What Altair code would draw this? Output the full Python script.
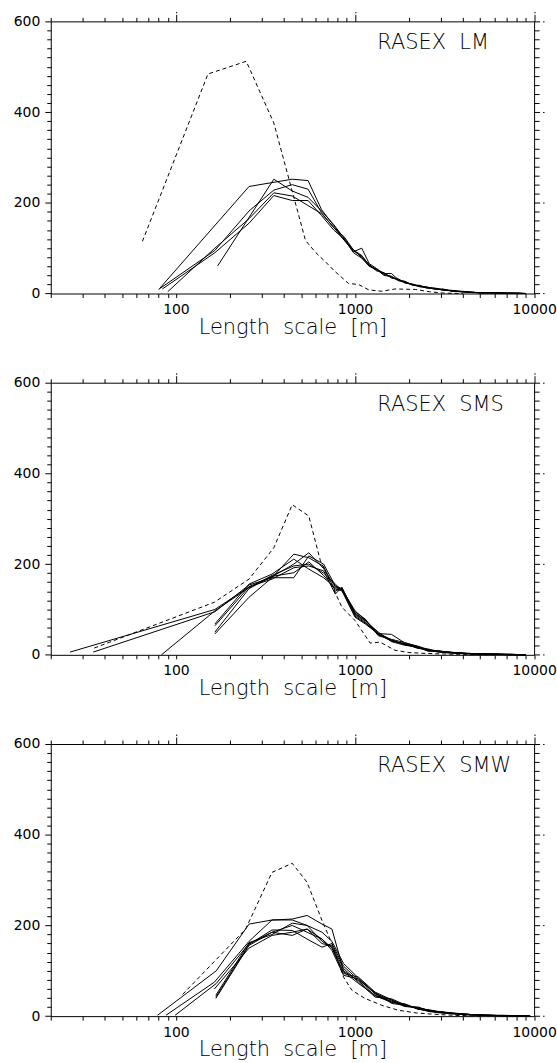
import altair as alt
import pandas as pd

FONT = "DejaVu Sans"

# ---------------- axis tick values ----------------
X_TICKS = [20, 30, 40, 50, 60, 70, 80, 90, 100, 200, 300, 400, 500, 600, 700, 800, 900,
           1000, 2000, 3000, 4000, 5000, 6000, 7000, 8000, 9000, 10000]
Y_TICKS = [0, 20, 40, 60, 80, 100, 120, 140, 160, 180, 200, 220, 240, 260, 280, 300,
           320, 340, 360, 380, 400, 420, 440, 460, 480, 500, 520, 540, 560, 580, 600]

# ---------------- panel 1 : RASEX LM ----------------
LM_DASH_X = [65, 151, 247, 352, 529, 601, 683, 776, 921, 1045, 1194, 1410, 1672, 2170, 2600, 3100, 4000]
LM_DASH_Y = [115, 484, 512, 376, 117, 91, 70, 48, 22, 20, 8, 5, 10, 9, 4, 1, 0]

LM_TAIL_X = [650, 760, 870, 980, 1090, 1200, 1320, 1450, 1600, 1750, 1900, 2100, 2300, 2500,
             2800, 3100, 3500, 4000, 4500, 5000, 6000, 7000, 8000, 9000]
LM_A_X = [81, 256, 446, 547]
LM_A_Y = [11, 236, 252, 249]
LM_A_T = [185, 150, 118, 92, 100, 66, 55, 44, 44, 30, 26, 19, 18, 13, 12, 8, 7, 4, 3, 2, 2, 1, 1, 0]
LM_B_X = [80, 165, 256, 352, 446, 547]
LM_B_Y = [9, 95, 182, 228, 240, 230]
LM_B_T = [178, 145, 125, 96, 84, 62, 50, 46, 34, 31, 23, 21, 15, 15, 10, 9, 5, 5, 2, 2, 1, 1, 0, 0]
LM_C_X = [84, 165, 256, 352, 446, 547]
LM_C_Y = [10, 90, 155, 216, 205, 205]
LM_C_T = [172, 140, 120, 90, 78, 60, 53, 40, 37, 28, 25, 18, 17, 12, 11, 7, 6, 3, 3, 1, 2, 1, 1, 0]
LM_D_X = [171, 352, 446, 547]
LM_D_Y = [61, 252, 226, 212]
LM_D_T = [182, 152, 122, 94, 82, 64, 51, 45, 35, 32, 24, 20, 16, 14, 9, 10, 5, 4, 2, 2, 1, 0, 1, 0]
LM_E_X = [90, 165, 256, 352, 446]
LM_E_Y = [4, 100, 165, 222, 215]
LM_E_T = [176, 146, 117, 97, 79, 61, 54, 42, 38, 29, 27, 19, 15, 13, 11, 8, 6, 4, 3, 1, 1, 1, 0, 0]

# ---------------- panel 2 : RASEX SMS ----------------
SMS_DASH_X = [35, 164, 256, 352, 446, 552, 641, 845, 1003, 1214, 1380, 1672, 2000, 2500, 3000, 4000, 6000]
SMS_DASH_Y = [15, 116, 167, 236, 331, 306, 207, 105, 75, 26, 28, 10, 5, 3, 2, 1, 0]

SMS_TAIL_X = [1000, 1140, 1350, 1600, 1900, 2250, 2550, 2900, 3300, 3800, 4400, 5200, 6200, 7500, 9000]
SMS_1_X = [25.6, 165, 256, 344, 455, 552, 668, 776, 845]
SMS_1_Y = [6, 100, 150, 172, 200, 225, 190, 150, 146]
SMS_1_T = [92, 76, 48, 33, 22, 18, 10, 9, 5, 4, 3, 2, 1, 1, 0]
SMS_2_X = [34.5, 165, 256, 344, 455, 552, 668, 776, 845]
SMS_2_Y = [6, 95, 154, 170, 222, 214, 195, 140, 148]
SMS_2_T = [88, 72, 45, 30, 25, 16, 11, 7, 6, 3, 2, 2, 2, 1, 0]
SMS_3_X = [83, 165, 256, 344, 455, 552, 668, 776, 845]
SMS_3_Y = [0, 97, 148, 175, 196, 200, 180, 156, 142]
SMS_3_T = [95, 79, 44, 32, 23, 15, 9, 8, 7, 4, 3, 1, 1, 0, 0]
SMS_4_X = [165, 256, 344, 455, 552, 668, 776, 845]
SMS_4_Y = [68, 156, 178, 211, 189, 170, 148, 144]
SMS_4_T = [85, 70, 47, 45, 26, 19, 12, 6, 5, 5, 2, 2, 1, 1, 0]
SMS_5_X = [165, 256, 344, 455, 552, 668, 776, 845]
SMS_5_Y = [64, 150, 167, 192, 196, 185, 134, 149]
SMS_5_T = [90, 75, 50, 29, 21, 17, 10, 9, 6, 3, 3, 1, 2, 0, 0]
SMS_6_X = [165, 256, 344, 455, 552, 668, 776, 845]
SMS_6_Y = [50, 146, 173, 181, 205, 175, 145, 141]
SMS_6_T = [83, 68, 46, 31, 24, 14, 13, 8, 4, 4, 2, 2, 1, 1, 0]
SMS_7_X = [165, 256, 344, 455, 552, 668, 776, 845]
SMS_7_Y = [46, 127, 170, 170, 218, 200, 152, 145]
SMS_7_T = [97, 77, 42, 34, 27, 18, 8, 7, 6, 3, 3, 2, 1, 0, 0]

# ---------------- panel 3 : RASEX SMW ----------------
SMW_DASH_X = [109, 245, 344, 446, 540, 654, 743, 863, 960, 1138, 1409, 1746, 2200, 2800, 3500, 5000]
SMW_DASH_Y = [48, 192, 317, 337, 295, 211, 160, 86, 57, 39, 24, 13, 7, 4, 2, 0]

SMW_TAIL_X = [1045, 1294, 1603, 1900, 2250, 2600, 3000, 3500, 4100, 4800, 5600, 6600, 8000, 9500]
SMW_1_X = [79, 168, 256, 344, 446, 540, 654, 743, 863]
SMW_1_Y = [2, 100, 203, 212, 212, 200, 185, 165, 116]
SMW_1_T = [84, 50, 35, 22, 18, 11, 10, 5, 5, 2, 2, 1, 1, 0]
SMW_2_X = [88, 164, 256, 344, 446, 540, 654, 743, 863]
SMW_2_Y = [2, 75, 165, 212, 214, 222, 203, 192, 100]
SMW_2_T = [78, 45, 30, 26, 15, 13, 8, 7, 3, 3, 1, 1, 0, 0]
SMW_3_X = [99, 168, 256, 344, 446, 540, 654, 743, 863]
SMW_3_Y = [2, 72, 160, 185, 200, 185, 170, 150, 94]
SMW_3_T = [86, 53, 36, 23, 19, 12, 9, 6, 4, 2, 2, 2, 1, 0]
SMW_4_X = [167, 256, 344, 446, 540, 654, 743, 863]
SMW_4_Y = [39, 156, 185, 178, 192, 160, 155, 105]
SMW_4_T = [75, 42, 38, 25, 16, 10, 7, 5, 4, 3, 2, 1, 0, 0]
SMW_5_X = [167, 256, 344, 446, 540, 654, 743, 863]
SMW_5_Y = [42, 158, 190, 189, 170, 152, 160, 110]
SMW_5_T = [80, 52, 28, 24, 17, 14, 9, 6, 3, 3, 1, 1, 1, 0]
SMW_6_X = [167, 256, 344, 446, 540, 654, 743, 863]
SMW_6_Y = [46, 162, 180, 205, 200, 165, 152, 98]
SMW_6_T = [72, 46, 33, 21, 20, 12, 10, 7, 5, 2, 2, 1, 0, 0]
SMW_7_X = [164, 256, 344, 446, 540, 654, 743, 863]
SMW_7_Y = [60, 150, 178, 185, 192, 170, 145, 90]
SMW_7_T = [82, 49, 31, 27, 16, 11, 8, 6, 4, 3, 2, 1, 1, 0]


def solid_frame(lines, tail_x):
    rows = []
    for name, (hx, hy, ty) in lines.items():
        xs = list(hx) + list(tail_x)
        ys = list(hy) + list(ty)
        for i, (x, y) in enumerate(zip(xs, ys)):
            rows.append({"series": name, "x": x, "y": y, "order": i})
    return pd.DataFrame(rows)


def dash_frame(dx, dy):
    return pd.DataFrame({"x": dx, "y": dy, "order": list(range(len(dx)))})


X_SCALE = alt.Scale(type="log", domain=[20, 10000], nice=False)
Y_SCALE = alt.Scale(domain=[0, 600], nice=False, zero=False)
DECADE_TEST = "indexof([100, 1000, 10000], datum.value) >= 0"
MAJOR_Y_TEST = "datum.value % 200 === 0"

W = 485.6
H = 273.4


def make_panel(label, sdf, ddf):
    solid = alt.Chart(sdf).mark_line(color="black", strokeWidth=1).encode(
        x=alt.X("x:Q", scale=X_SCALE, axis=alt.Axis(
            orient="bottom", values=X_TICKS, tickSize=4, labelOverlap=False,
            labelExpr=DECADE_TEST + " ? format(datum.value, 'd') : ''",
            labelFontSize=14, labelPadding=5, labelFlush=False,
            title="Length\u00a0 scale\u00a0 [m]", titleFontSize=21,
            titleFontWeight=200, titleY=40, titleBaseline="alphabetic")),
        y=alt.Y("y:Q", scale=Y_SCALE, axis=alt.Axis(
            orient="left", values=Y_TICKS, labelOverlap=False,
            tickSize={"condition": {"test": MAJOR_Y_TEST, "value": 6}, "value": 4},
            labelExpr=MAJOR_Y_TEST + " ? format(datum.value, 'd') : ''",
            labelFontSize=14, labelPadding=5, title=None)),
        detail="series:N",
        order="order:Q",
    )
    dashed = alt.Chart(ddf).mark_line(color="black", strokeWidth=1, strokeDash=[4, 3]).encode(
        x=alt.X("x:Q", scale=X_SCALE, axis=alt.Axis(
            orient="top", values=X_TICKS, labels=False, title=None,
            tickSize={"condition": {"test": DECADE_TEST, "value": 10}, "value": 4},
            tickDash={"condition": {"test": DECADE_TEST, "value": [7, 1.5, 1.5, 20]}, "value": []})),
        y=alt.Y("y:Q", scale=Y_SCALE, axis=alt.Axis(
            orient="right", values=Y_TICKS, labels=False, title=None,
            tickSize={"condition": {"test": MAJOR_Y_TEST, "value": 11}, "value": 5},
            tickDash={"condition": {"test": MAJOR_Y_TEST, "value": [5.5, 3, 1.5, 10]}, "value": []})),
        order="order:Q",
    )
    text = alt.Chart(pd.DataFrame({"t": [label]})).mark_text(
        align="left", baseline="alphabetic", fontSize=21, font=FONT, fontWeight=200,
        color="black").encode(text="t:N", x=alt.value(328), y=alt.value(28))
    return alt.layer(solid, dashed, text).resolve_axis(
        x="independent", y="independent").properties(width=W, height=H)


p1 = make_panel("RASEX\u00a0 LM", solid_frame({
    "A": (LM_A_X, LM_A_Y, LM_A_T), "B": (LM_B_X, LM_B_Y, LM_B_T),
    "C": (LM_C_X, LM_C_Y, LM_C_T), "D": (LM_D_X, LM_D_Y, LM_D_T),
    "E": (LM_E_X, LM_E_Y, LM_E_T)}, LM_TAIL_X), dash_frame(LM_DASH_X, LM_DASH_Y))

p2 = make_panel("RASEX\u00a0 SMS", solid_frame({
    "1": (SMS_1_X, SMS_1_Y, SMS_1_T), "2": (SMS_2_X, SMS_2_Y, SMS_2_T),
    "3": (SMS_3_X, SMS_3_Y, SMS_3_T), "4": (SMS_4_X, SMS_4_Y, SMS_4_T),
    "5": (SMS_5_X, SMS_5_Y, SMS_5_T), "6": (SMS_6_X, SMS_6_Y, SMS_6_T),
    "7": (SMS_7_X, SMS_7_Y, SMS_7_T)}, SMS_TAIL_X), dash_frame(SMS_DASH_X, SMS_DASH_Y))

p3 = make_panel("RASEX\u00a0 SMW", solid_frame({
    "1": (SMW_1_X, SMW_1_Y, SMW_1_T), "2": (SMW_2_X, SMW_2_Y, SMW_2_T),
    "3": (SMW_3_X, SMW_3_Y, SMW_3_T), "4": (SMW_4_X, SMW_4_Y, SMW_4_T),
    "5": (SMW_5_X, SMW_5_Y, SMW_5_T), "6": (SMW_6_X, SMW_6_Y, SMW_6_T),
    "7": (SMW_7_X, SMW_7_Y, SMW_7_T)}, SMW_TAIL_X), dash_frame(SMW_DASH_X, SMW_DASH_Y))

chart = alt.vconcat(p1, p2, p3, spacing=89, bounds="flush").properties(
    padding={"left": 13, "top": 8, "right": 0, "bottom": 0},
    background="white",
).configure_view(stroke=None).configure_axis(
    grid=False, domainColor="black", tickColor="black", labelColor="black",
    titleColor="black", labelFont=FONT, titleFont=FONT, domainWidth=1, tickWidth=1,
)

chart.save("out.html", embed_options={"renderer": "svg", "actions": False})
